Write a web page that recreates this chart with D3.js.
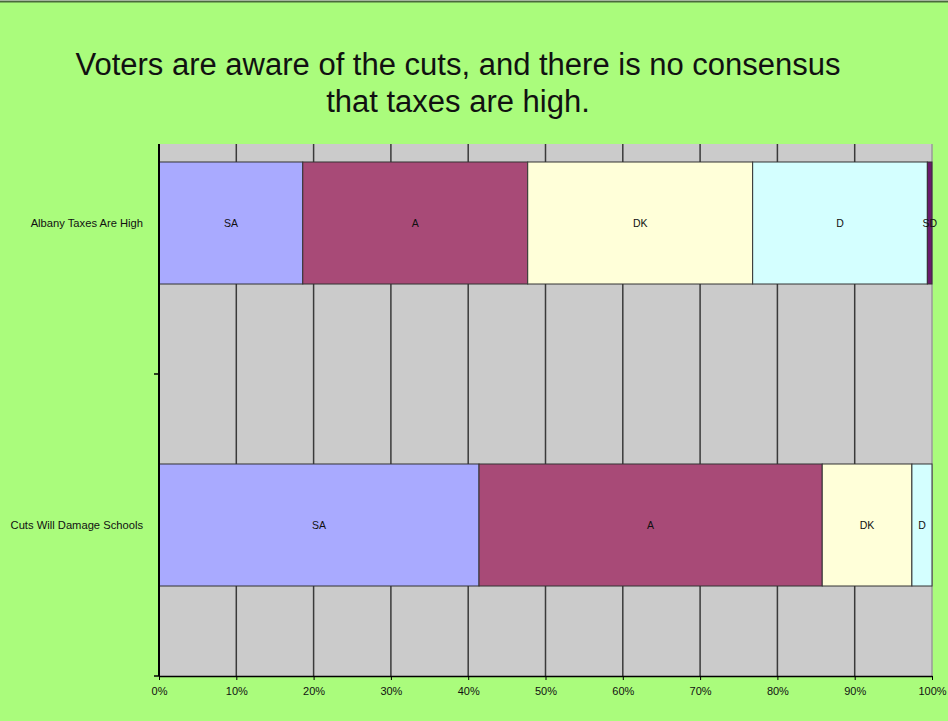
<!DOCTYPE html>
<html>
<head>
<meta charset="utf-8">
<script src="https://cdn.jsdelivr.net/npm/d3@7"></script>
<style>
  body { margin: 0; background: #fff; }
  text { font-family: Arial, "Liberation Sans", sans-serif; fill: #111; }
</style>
</head>
<body>
<script>
// data
var categories = ["Albany Taxes Are High", "Cuts Will Damage Schools"];
var seriesNames = ["SA", "A", "DK", "D", "SD"];
var SA = [18.6, 41.4];
var A = [29.1, 44.4];
var DK = [29.1, 11.6];
var D = [22.6, 2.6];
var SD = [0.6, 0];
var xTicks = [0, 0.1, 0.2, 0.3, 0.4, 0.5, 0.6, 0.7, 0.8, 0.9, 1];
var colors = ["#a9aaff", "#a84a77", "#ffffd9", "#d4ffff", "#6a1a6c"];

// size
var W = 948, H = 721;
var plot = { left: 159, right: 932, top: 144, bottom: 676 };

var svg = d3.select("body").append("svg").attr("width", W).attr("height", H);

// slide background
svg.append("rect").attr("x", 0).attr("y", 2).attr("width", W).attr("height", H - 2).attr("fill", "#aafc7c");
svg.append("line").attr("x1", 0).attr("x2", W).attr("y1", 1.5).attr("y2", 1.5)
  .attr("stroke", "#4a6a3c").attr("stroke-width", 2);

// title
var title = svg.append("text").attr("text-anchor", "middle").style("font-size", "31px");
title.append("tspan").attr("x", 458).attr("y", 75).text("Voters are aware of the cuts, and there is no consensus");
title.append("tspan").attr("x", 458).attr("y", 112).text("that taxes are high.");

// scales
var x = d3.scaleLinear().domain([0, 1]).range([plot.left, plot.right]);
var y = d3.scaleBand().domain(categories).range([72, plot.bottom]).paddingInner(0.596).paddingOuter(0.298);

// plot background
svg.append("rect").attr("x", plot.left).attr("y", plot.top)
  .attr("width", plot.right - plot.left).attr("height", plot.bottom - plot.top)
  .attr("fill", "#cbcbcb");

// gridlines
svg.append("g").selectAll("line").data(xTicks.slice(1)).enter().append("line")
  .attr("x1", d => x(d)).attr("x2", d => x(d))
  .attr("y1", plot.top).attr("y2", plot.bottom)
  .attr("stroke", d => d === 1 ? "#9a9a9a" : "#3a3a3a").attr("stroke-width", 1.5);

// stack
var table = categories.map(function (c, i) {
  return { cat: c, SA: SA[i] / 100, A: A[i] / 100, DK: DK[i] / 100, D: D[i] / 100, SD: SD[i] / 100 };
});
var stack = d3.stack().keys(seriesNames)(table);

var layers = svg.append("g").selectAll("g").data(stack).enter().append("g")
  .attr("fill", (d, i) => colors[i]);

layers.selectAll("rect").data(d => d.filter(p => p[1] - p[0] > 0)).enter().append("rect")
  .attr("x", d => x(d[0]))
  .attr("y", d => y(d.data.cat))
  .attr("width", d => x(d[1]) - x(d[0]))
  .attr("height", y.bandwidth())
  .attr("stroke", "#333")
  .attr("stroke-width", 1);

// segment labels
layers.each(function (s) {
  d3.select(this).selectAll("text").data(s.filter(p => p[1] - p[0] > 0)).enter().append("text")
    .attr("x", d => (x(d[0]) + x(d[1])) / 2)
    .attr("y", d => y(d.data.cat) + y.bandwidth() / 2)
    .attr("dy", "0.35em")
    .attr("text-anchor", "middle")
    .style("font-size", "10.5px")
    .style("fill", "#111")
    .text(s.key);
});

// x axis
var xAxis = svg.append("g").attr("transform", "translate(0," + plot.bottom + ")")
  .call(d3.axisBottom(x).tickValues(xTicks).tickFormat(d3.format(".0%")).tickSize(4).tickSizeOuter(0));
xAxis.select(".domain").attr("stroke", "#000").attr("stroke-width", 1.5);
xAxis.selectAll(".tick line").attr("stroke", "#000");
xAxis.selectAll("text").style("font-size", "11px").attr("dy", "1.05em").style("fill", "#111");

// y axis
svg.append("line").attr("x1", plot.left).attr("x2", plot.left).attr("y1", plot.top).attr("y2", plot.bottom)
  .attr("stroke", "#000").attr("stroke-width", 2);
var yBounds = [y(categories[1]) - y.step() * y.paddingInner() / 2, plot.bottom];
svg.append("g").selectAll("line").data(yBounds).enter().append("line")
  .attr("x1", plot.left - 5).attr("x2", plot.left)
  .attr("y1", d => d).attr("y2", d => d)
  .attr("stroke", "#000").attr("stroke-width", 1.5);

svg.append("g").selectAll("text").data(categories).enter().append("text")
  .attr("x", 143)
  .attr("y", d => y(d) + y.bandwidth() / 2)
  .attr("dy", "0.35em")
  .attr("text-anchor", "end")
  .style("font-size", "11.2px")
  .text(d => d);
</script>
</body>
</html>
